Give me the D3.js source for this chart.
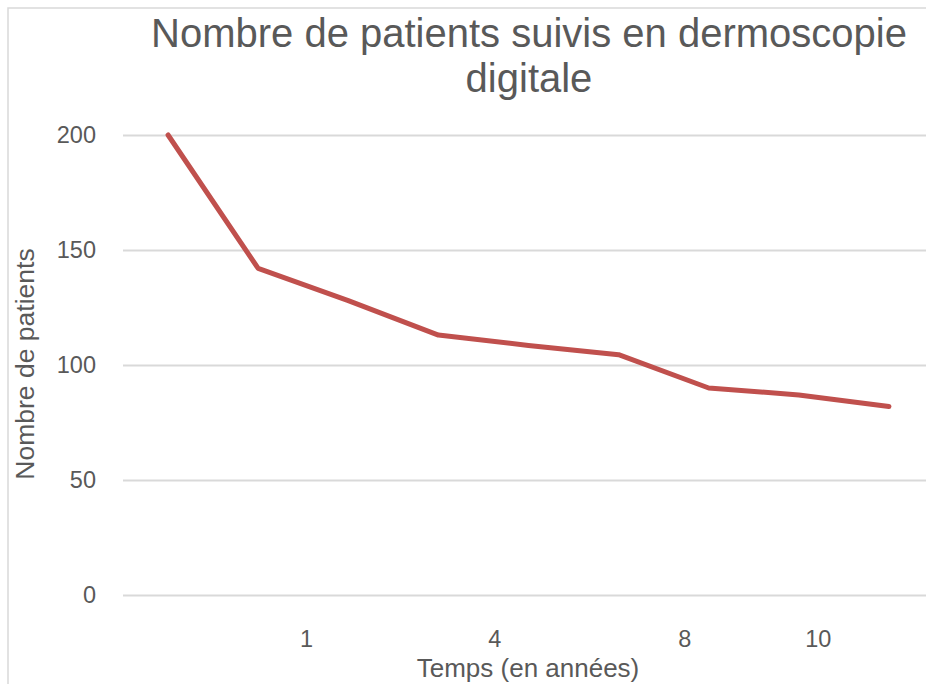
<!DOCTYPE html>
<html>
<head>
<meta charset="utf-8">
<script src="https://cdn.jsdelivr.net/npm/d3@7"></script>
<style>
  html, body { margin: 0; padding: 0; background: #fff; }
  svg { display: block; font-family: "Liberation Sans", Arial, Helvetica, sans-serif; }
</style>
</head>
<body>
<svg id="chart" width="926" height="684"></svg>
<script>
// ---- data ----
const titleLines = ["Nombre de patients suivis en dermoscopie", "digitale"];
const yAxisTitle = "Nombre de patients";
const xAxisTitle = "Temps (en années)";
const pointIndex = [0, 1, 2, 3, 4, 5, 6, 7, 8];
const patients = [200, 142, 128, 113, 108.5, 104.5, 90, 87, 82];
const yTicks = [0, 50, 100, 150, 200];
const xTickLabels = ["1", "4", "8", "10"];
const xTickAt = [2.03, 4.12, 6.23, 7.71]; // positions on the category axis (in point units)

// ---- layout ----
const svg = d3.select("#chart");
const W = 926, H = 684;
const plotLeft = 123, plotRight = 934, plotTop = 135, plotBottom = 595;
const textColor = "#595959";
const gridColor = "#d9d9d9";
const lineColor = "#c0504d";

const x = d3.scaleLinear().domain([0, 9]).range([plotLeft, plotRight]);
const y = d3.scaleLinear().domain([0, 200]).range([plotBottom, plotTop]);

// outer border (chart area)
svg.append("path")
  .attr("d", `M8,${H} L8,8 L${W},8`)
  .attr("fill", "none")
  .attr("stroke", gridColor)
  .attr("stroke-width", 1.5);

// title
const title = svg.append("text")
  .attr("text-anchor", "middle")
  .attr("fill", textColor)
  .attr("font-size", 40);
titleLines.forEach((t, i) => {
  title.append("tspan").attr("x", 529).attr("y", 47 + i * 45).text(t);
});

// gridlines + y axis
const yAxis = d3.axisLeft(y).tickValues(yTicks).tickSize(-(plotRight - plotLeft)).tickPadding(27);
const gy = svg.append("g").attr("transform", `translate(${plotLeft},0)`).call(yAxis);
gy.select(".domain").remove();
gy.selectAll(".tick line").attr("stroke", gridColor).attr("stroke-width", 2.2);
gy.selectAll(".tick text")
  .attr("fill", textColor)
  .attr("font-size", 23.5)
  .attr("font-family", "Liberation Sans, Arial, sans-serif");

// x axis labels
const xAxis = d3.axisBottom(x).tickValues(xTickAt).tickFormat((d, i) => xTickLabels[i]).tickSize(0).tickPadding(0);
const gx = svg.append("g").attr("transform", `translate(0,${plotBottom})`).call(xAxis);
gx.select(".domain").remove();
gx.selectAll(".tick text")
  .attr("fill", textColor)
  .attr("font-size", 23.5)
  .attr("dy", null)
  .attr("y", 52)
  .attr("font-family", "Liberation Sans, Arial, sans-serif");

// axis titles
svg.append("text")
  .attr("x", 528).attr("y", 677)
  .attr("text-anchor", "middle")
  .attr("fill", textColor)
  .attr("font-size", 26)
  .text(xAxisTitle);

svg.append("text")
  .attr("transform", "translate(34,364) rotate(-90)")
  .attr("text-anchor", "middle")
  .attr("fill", textColor)
  .attr("font-size", 26.5)
  .text(yAxisTitle);

// line
const line = d3.line()
  .x((d, i) => x(pointIndex[i] + 0.5))
  .y(d => y(d));

svg.append("path")
  .datum(patients)
  .attr("d", line)
  .attr("fill", "none")
  .attr("stroke", lineColor)
  .attr("stroke-width", 5)
  .attr("stroke-linejoin", "round")
  .attr("stroke-linecap", "round");
</script>
</body>
</html>
